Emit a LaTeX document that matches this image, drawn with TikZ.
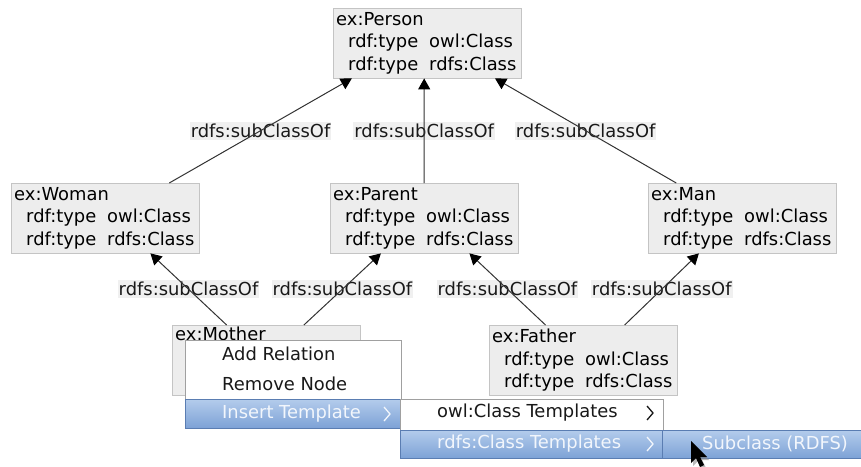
\documentclass[tikz,border=0pt]{standalone}
\usepackage{fontspec}
\setmainfont{DejaVu Sans}
\usetikzlibrary{calc,arrows.meta}
\definecolor{boxfill}{HTML}{EDEDED}
\definecolor{boxline}{HTML}{C4C4C4}
\definecolor{lblfill}{HTML}{F0F0F0}
\definecolor{menuline}{HTML}{A0A0A0}
\definecolor{hltop}{HTML}{B4CCEC}
\definecolor{hlbot}{HTML}{7DA2D6}
\definecolor{hlline}{HTML}{5A7DB2}
\definecolor{hltext}{HTML}{F2F6FC}
\def\rdft#1{\hspace*{12pt}\makebox[81pt][l]{rdf:type}#1}
\def\chev(#1,#2)[#3]{\draw[#3, line width=1.3pt] (#1-3,#2-7) -- (#1+3,#2) -- (#1-3,#2+7);}

\begin{document}
\begin{tikzpicture}[x=1pt, y=-1pt,
  cls/.style={draw=boxline, fill=boxfill, anchor=north west, align=left,
    text width=182pt, inner xsep=3pt, inner ysep=2pt, minimum height=70pt,
    font=\fontsize{17.9}{22.7}\selectfont},
  rel/.style={fill=lblfill, text=black!90, inner xsep=1pt, inner ysep=2pt,
    font=\fontsize{17.9}{20}\selectfont},
  sub/.style={draw=black!80, line width=1pt, -{Triangle[width=12pt,length=11pt,color=black]}},
  item/.style={anchor=west, inner sep=0pt, text=black!90, font=\fontsize{17.9}{20}\selectfont}]
			%%%%% START %%%%%
			\useasboundingbox (0,0) rectangle (861,466);
			
			\node[cls] (person) at (333,8) {ex:Person\\\rdft{owl:Class}\\\rdft{rdfs:Class}};
			\node[cls] (woman) at (11,183) {ex:Woman\\\rdft{owl:Class}\\\rdft{rdfs:Class}};
			\node[cls] (parent) at (330,183) {ex:Parent\\\rdft{owl:Class}\\\rdft{rdfs:Class}};
			\node[cls] (man) at (648,183) {ex:Man\\\rdft{owl:Class}\\\rdft{rdfs:Class}};
			\node[cls] (mother) at (172,325) {ex:Mother\\\strut\\\strut};
			\node[cls] (father) at (489,325) {ex:Father\\\rdft{owl:Class}\\\rdft{rdfs:Class}};
			
			\coordinate (p1) at ($(person.south west)!0.10!(person.south east)$);
			\coordinate (p2) at ($(person.south west)!0.484!(person.south east)$);
			\coordinate (p3) at ($(person.south west)!0.86!(person.south east)$);
			\coordinate (w1) at ($(woman.north west)!0.84!(woman.north east)$);
			\coordinate (w2) at ($(woman.south west)!0.74!(woman.south east)$);
			\coordinate (pa1) at (parent.north);
			\coordinate (pa2) at ($(parent.south west)!0.27!(parent.south east)$);
			\coordinate (pa3) at ($(parent.south west)!0.74!(parent.south east)$);
			\coordinate (m1) at ($(man.north west)!0.15!(man.north east)$);
			\coordinate (m2) at ($(man.south west)!0.27!(man.south east)$);
			\coordinate (mo1) at ($(mother.north west)!0.29!(mother.north east)$);
			\coordinate (mo2) at ($(mother.north west)!0.70!(mother.north east)$);
			\coordinate (f1) at ($(father.north west)!0.30!(father.north east)$);
			\coordinate (f2) at ($(father.north west)!0.72!(father.north east)$);
			
			\foreach \a/\b in {w1/p1, pa1/p2, m1/p3, mo1/w2, mo2/pa2, f1/pa3, f2/m2} {
				\path (\a) -- (\b) node[midway, rel] {rdfs:subClassOf};
				\draw[sub] (\a) -- (\b);
			}
			
			% context menu
			\draw[draw=menuline, fill=white] (185,340) rectangle (401,428);
			\shade[top color=hltop, bottom color=hlbot, draw=hlline] (185,399) rectangle (401,428);
			\node[item] (addrel) at (222,354) {Add Relation};
			\node[item] (remnode) at (222,384) {Remove Node};
			\node[item, text=hltext] (instmpl) at (222,414) {Insert Template};
			\chev(387,414)[hltext]
			
			\draw[draw=menuline, fill=white] (400,399) rectangle (663,458);
			\shade[top color=hltop, bottom color=hlbot, draw=hlline] (400,430) rectangle (662,458);
			\shade[top color=hltop, bottom color=hlbot, draw=hlline] (662,430) rectangle (861,458);
			\node[item] (owltmpl) at (437,413) {owl:Class Templates};
			\chev(650,413)[black!90]
			\node[item, text=hltext] (rdfstmpl) at (437,444) {rdfs:Class Templates};
			\chev(650,444)[hltext]
			\node[item, text=hltext] (subrdfs) at (702,444) {Subclass (RDFS)};
			
			% mouse pointer
			\fill[black!45, opacity=0.6] (693,444) -- ++(0,22) -- ++(5,-5) -- ++(4,9) -- ++(4,-2) -- ++(-4,-8) -- ++(7,0) -- cycle;
			\fill[black] (691,441) -- ++(0,22) -- ++(5,-5) -- ++(4,9) -- ++(4,-2) -- ++(-4,-8) -- ++(7,0) -- cycle;
			
			%%%%% END %%%%%
\end{tikzpicture}
\end{document}
